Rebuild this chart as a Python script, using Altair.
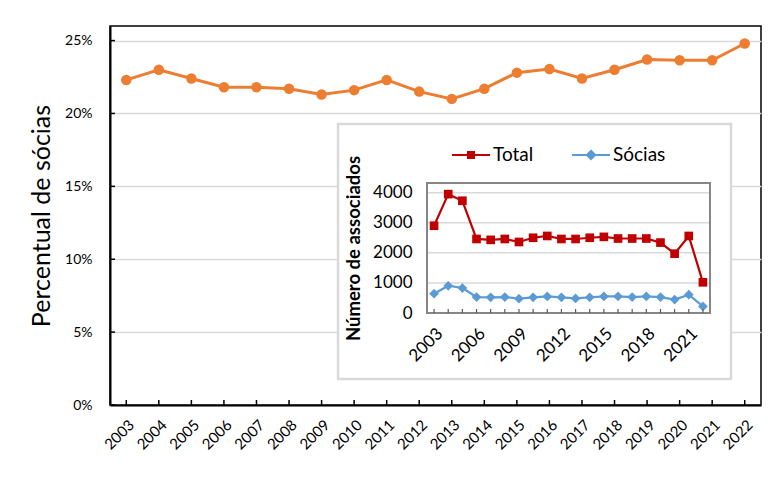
import altair as alt
import pandas as pd

# ---------------- data ----------------
years = ["2003", "2004", "2005", "2006", "2007", "2008", "2009", "2010", "2011", "2012",
         "2013", "2014", "2015", "2016", "2017", "2018", "2019", "2020", "2021", "2022"]
pct_socias = [0.223, 0.230, 0.224, 0.218, 0.218, 0.217, 0.213, 0.216, 0.223, 0.215,
              0.210, 0.217, 0.228, 0.2305, 0.224, 0.230, 0.237, 0.2365, 0.2365, 0.248]
total = [2900, 3950, 3730, 2460, 2430, 2460, 2360, 2500, 2560, 2460,
         2460, 2500, 2530, 2475, 2475, 2475, 2340, 1970, 2560, 1020]
socias = [640, 905, 830, 530, 520, 530, 475, 520, 550, 520,
          485, 520, 550, 550, 530, 550, 530, 445, 610, 220]
series = ["Total", "Sócias"]
main_y_ticks = [0, 0.05, 0.10, 0.15, 0.20, 0.25]
inset_y_ticks = [0, 1000, 2000, 3000, 4000]
inset_x_labels = ["2003", "2006", "2009", "2012", "2015", "2018", "2021"]

# ---------------- style / layout ----------------
FONT = "Lato"
ORANGE = "#ED7D31"
RED = "#C00000"
BLUE = "#5B9BD5"
GRID = "#D9D9D9"
W, H = 651, 379
IX0, IX1 = 317, 600      # inset plot area (px, relative to main plot)
IY0, IY1 = 157, 287
BOX = (228, 621, 98, 353)

main_df = pd.DataFrame({"ano": years, "pct": pct_socias})
inset_df = pd.DataFrame({
    "ano": years * 2,
    "serie": ["Total"] * len(years) + ["Sócias"] * len(years),
    "valor": total + socias,
})
ytick_df = pd.DataFrame({"ano": ["2003"] * len(main_y_ticks), "pct": main_y_ticks})
igrid_df = pd.DataFrame({"ano": ["2003"] * 4, "valor": inset_y_ticks[1:]})
one = pd.DataFrame({"a": [0]})

# ---------------- main chart ----------------
x_main = alt.X("ano:O", scale=alt.Scale(type="point", domain=years, padding=0.5),
               axis=alt.Axis(title=None, labelAngle=-45, labelFontSize=15, ticks=False,
                             domainColor="black", domainWidth=2, labelPadding=12,
                             grid=False, labelColor="black"))
y_main = alt.Y("pct:Q", scale=alt.Scale(domain=[0, 0.26], nice=False, zero=True),
               axis=alt.Axis(values=main_y_ticks, format=".0%", title="Percentual de sócias",
                             titleFontSize=25, titleFontWeight="normal", labelFontSize=14,
                             labelPadding=18, ticks=False, domainColor="black", domainWidth=2,
                             gridColor=GRID, gridWidth=1.5, titlePadding=10,
                             labelColor="black", titleColor="black"))

main_line = alt.Chart(main_df).mark_line(color=ORANGE, strokeWidth=3).encode(x=x_main, y=y_main)
main_pts = alt.Chart(main_df).mark_circle(color=ORANGE, size=110, opacity=1).encode(x=x_main, y=y_main)
main_xt = alt.Chart(main_df).mark_rule(color="black", strokeWidth=1.5).encode(
    x=x_main, y=alt.value(H), y2=alt.value(H - 5))
main_yt = alt.Chart(ytick_df).mark_rule(color="black", strokeWidth=1.5).encode(
    y=y_main, x=alt.value(0), x2=alt.value(5))
main_layer = alt.layer(main_line, main_pts, main_xt, main_yt)

# ---------------- inset ----------------
box = alt.Chart(one).mark_rect(fill="white", stroke=GRID, strokeWidth=2.5).encode(
    x=alt.value(BOX[0]), x2=alt.value(BOX[1]), y=alt.value(BOX[2]), y2=alt.value(BOX[3]))

ix_scale = alt.Scale(type="point", domain=years, range=[IX0, IX1], padding=0.5)
iy_scale = alt.Scale(domain=[0, 4320], range=[IY1, IY0], nice=False, zero=True)

x_in = alt.X("ano:O", scale=ix_scale,
             axis=alt.Axis(orient="bottom", offset=-(H - IY1), values=inset_x_labels, title=None,
                           labelAngle=-45, labelFontSize=17, ticks=False, domain=False, grid=False,
                           labelPadding=12, zindex=1, labelColor="black"))
y_in = alt.Y("valor:Q", scale=iy_scale,
             axis=alt.Axis(orient="left", offset=-IX0, values=inset_y_ticks, format="d",
                           title="Número de associados", titleFontWeight="bold", titleFontSize=18.5,
                           labelFontSize=17, ticks=False, domain=False, grid=False,
                           labelPadding=15, titlePadding=9, zindex=1,
                           labelColor="black", titleColor="black"))

igrid = alt.Chart(igrid_df).mark_rule(color=GRID, strokeWidth=1.5).encode(
    y=y_in, x=alt.value(IX0), x2=alt.value(IX1))

tot_df = inset_df[inset_df.serie == "Total"]
soc_df = inset_df[inset_df.serie == "Sócias"]
tot_line = alt.Chart(tot_df).mark_line(color=RED, strokeWidth=2.2).encode(x=x_in, y=y_in)
tot_pts = alt.Chart(tot_df).mark_point(shape="square", filled=True, color=RED, size=75,
                                       opacity=1).encode(x=x_in, y=y_in)
soc_line = alt.Chart(soc_df).mark_line(color=BLUE, strokeWidth=2.2).encode(x=x_in, y=y_in)
soc_pts = alt.Chart(soc_df).mark_point(shape="diamond", filled=True, color=BLUE, size=95,
                                       opacity=1).encode(x=x_in, y=y_in)

iframe = alt.Chart(one).mark_rect(fill="transparent", stroke="#868686", strokeWidth=2).encode(
    x=alt.value(IX0), x2=alt.value(IX1), y=alt.value(IY0), y2=alt.value(IY1))
ixt = alt.Chart(soc_df).mark_rule(color="#595959", strokeWidth=1.2).encode(
    x=x_in, y=alt.value(IY1), y2=alt.value(IY1 - 4))

leg = dict(orient="none", legendX=341, legendY=109, direction="horizontal", title=None,
           labelFontSize=19, labelFont=FONT, labelColor="black", symbolSize=1444,
           symbolStrokeWidth=2, columnPadding=34, labelOffset=2, padding=0)
paths = ["M-1,0H1M-0.16,-0.16H0.16V0.16H-0.16Z", "M-1,0H1M0,-0.22L0.22,0L0,0.22L-0.22,0Z"]
legend_layer = alt.Chart(inset_df).transform_filter("false").mark_point(filled=True, opacity=1).encode(
    x=x_in, y=y_in,
    fill=alt.Fill("serie:N", scale=alt.Scale(domain=series, range=[RED, BLUE]), legend=alt.Legend(**leg)),
    stroke=alt.Stroke("serie:N", scale=alt.Scale(domain=series, range=[RED, BLUE]), legend=alt.Legend(**leg)),
    shape=alt.Shape("serie:N", scale=alt.Scale(domain=series, range=paths), legend=alt.Legend(**leg)),
)

inset_layer = alt.layer(box, igrid, tot_line, soc_line, tot_pts, soc_pts, iframe, ixt, legend_layer)

chart = alt.layer(main_layer, inset_layer).resolve_scale(
    x="independent", y="independent"
).properties(
    width=W, height=H,
    autosize=alt.AutoSizeParams(type="none"),
    padding={"left": 102, "top": 18, "right": 2, "bottom": 75},
).configure(font=FONT).configure_view(stroke="black", strokeWidth=1.5).configure_axis(
    labelFont=FONT, titleFont=FONT)

chart.save("out.html", embed_options={"renderer": "svg", "actions": False})
